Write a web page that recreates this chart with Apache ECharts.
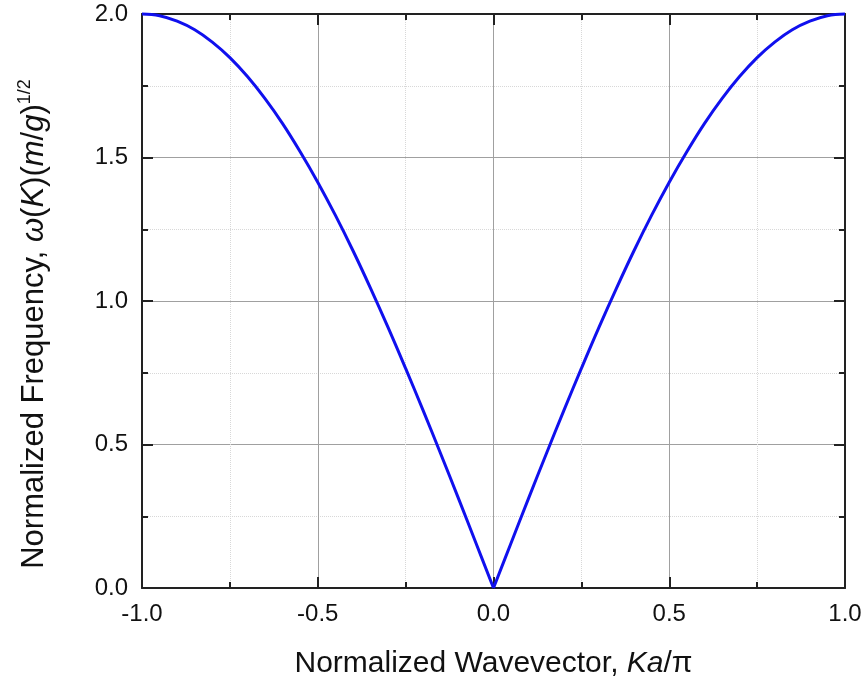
<!DOCTYPE html>
<html>
<head>
<meta charset="utf-8">
<script src="https://cdn.jsdelivr.net/npm/echarts@6/dist/echarts.min.js"></script>
<style>
  html, body { margin: 0; padding: 0; background: #fff; }
  #chart { width: 867px; height: 684px; }
</style>
</head>
<body>
<div id="chart"></div>
<script>
// Ka/pi values along the x axis
const wavevector = [
  -1.00, -0.95, -0.90, -0.85, -0.80, -0.75, -0.70, -0.65, -0.60, -0.55,
  -0.50, -0.45, -0.40, -0.35, -0.30, -0.25, -0.20, -0.15, -0.10, -0.05,
   0.00,
   0.05,  0.10,  0.15,  0.20,  0.25,  0.30,  0.35,  0.40,  0.45,  0.50,
   0.55,  0.60,  0.65,  0.70,  0.75,  0.80,  0.85,  0.90,  0.95,  1.00
];
// normalized frequency
const frequency = [
  2.000, 1.994, 1.975, 1.945, 1.902, 1.848, 1.782, 1.705, 1.618, 1.520,
  1.414, 1.299, 1.176, 1.045, 0.908, 0.765, 0.618, 0.467, 0.313, 0.157,
  0.000,
  0.157, 0.313, 0.467, 0.618, 0.765, 0.908, 1.045, 1.176, 1.299, 1.414,
  1.520, 1.618, 1.705, 1.782, 1.848, 1.902, 1.945, 1.975, 1.994, 2.000
];

const FONT = 'Liberation Sans, Arial, sans-serif';

const chart = echarts.init(document.getElementById('chart'), null, { renderer: 'canvas' });

const lineStyleAxis = { color: '#222', width: 2 };
const tickStyle = { show: true, inside: true, length: 11, lineStyle: { color: '#222', width: 2 } };
const minorTickStyle = { show: true, splitNumber: 2, length: 6, lineStyle: { color: '#222', width: 2 } };

const titleRich = {
  n: { fontFamily: FONT, fontSize: 31, color: '#111', lineHeight: 36 },
  i: { fontFamily: FONT, fontSize: 31, color: '#111', fontStyle: 'italic', lineHeight: 36 },
  s: { fontFamily: FONT, fontSize: 18, color: '#111', verticalAlign: 'top', lineHeight: 36, padding: [0, 0, 14, 0] }
};

// the cusp at 0 stays sharp: each branch is smoothed on its own
const points = wavevector.map((x, k) => [x, frequency[k]]);
const leftBranch = points.filter(p => p[0] <= 0);
const rightBranch = points.filter(p => p[0] >= 0);

const curve = data => ({
  type: 'line',
  data: data,
  showSymbol: false,
  smooth: 0.4,
  lineStyle: { color: '#1010ee', width: 3 },
  clip: false
});

const option = {
  animation: false,
  backgroundColor: '#fff',
  grid: { left: 142, right: 22, top: 14, bottom: 95 },
  xAxis: [
    {
      type: 'value', min: -1, max: 1, interval: 0.5,
      position: 'bottom',
      name: '{n|Normalized Wavevector, }{i|Ka}{n|/π}',
      nameLocation: 'middle', nameGap: 58,
      nameTextStyle: { rich: {
        n: Object.assign({}, titleRich.n, { fontSize: 30 }),
        i: Object.assign({}, titleRich.i, { fontSize: 30 })
      } },
      axisLine: { show: true, onZero: false, lineStyle: lineStyleAxis },
      axisTick: tickStyle,
      minorTick: minorTickStyle,
      axisLabel: { fontFamily: FONT, fontSize: 24, color: '#111', margin: 14,
        formatter: v => v.toFixed(1) },
      splitLine: { show: true, lineStyle: { color: '#a0a0a0', width: 1 } },
      minorSplitLine: { show: true, lineStyle: { color: '#d8d8d8', width: 1, type: 'dotted' } }
    },
    {
      type: 'value', min: -1, max: 1, interval: 0.5,
      position: 'top',
      axisLine: { show: true, onZero: false, lineStyle: lineStyleAxis },
      axisTick: tickStyle,
      minorTick: minorTickStyle,
      axisLabel: { show: false },
      splitLine: { show: false }
    }
  ],
  yAxis: [
    {
      type: 'value', min: 0, max: 2, interval: 0.5,
      position: 'left',
      name: '{n|Normalized Frequency, }{i|ω}{n|(}{i|K}{n|)(}{i|m}{n|/}{i|g}{n|)}{s|1/2}',
      nameLocation: 'middle', nameGap: 90, nameRotate: 90,
      nameTextStyle: { rich: titleRich, padding: [0, 46, 0, 0] },
      axisLine: { show: true, onZero: false, lineStyle: lineStyleAxis },
      axisTick: tickStyle,
      minorTick: minorTickStyle,
      axisLabel: { fontFamily: FONT, fontSize: 24, color: '#111', margin: 14,
        formatter: v => v.toFixed(1) },
      splitLine: { show: true, lineStyle: { color: '#a0a0a0', width: 1 } },
      minorSplitLine: { show: true, lineStyle: { color: '#d8d8d8', width: 1, type: 'dotted' } }
    },
    {
      type: 'value', min: 0, max: 2, interval: 0.5,
      position: 'right',
      axisLine: { show: true, onZero: false, lineStyle: lineStyleAxis },
      axisTick: tickStyle,
      minorTick: minorTickStyle,
      axisLabel: { show: false },
      splitLine: { show: false }
    }
  ],
  series: [curve(leftBranch), curve(rightBranch)]
};

chart.setOption(option);
</script>
</body>
</html>
